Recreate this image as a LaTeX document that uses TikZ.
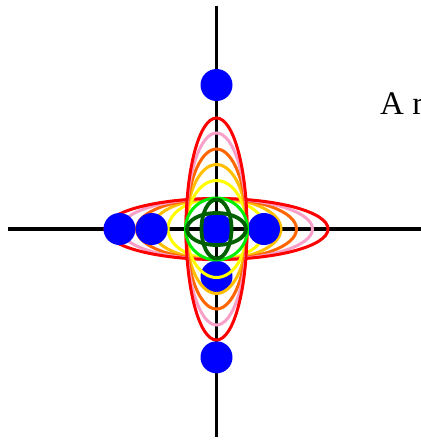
\documentclass[tikz,border=0pt]{standalone}
\usepackage{fontspec}
\setmainfont{Liberation Serif}
\definecolor{cred}{RGB}{255,0,0}
\definecolor{cpink}{RGB}{248,160,200}
\definecolor{corange}{RGB}{255,102,0}
\definecolor{cgold}{RGB}{255,190,0}
\definecolor{cyellow}{RGB}{255,255,0}
\definecolor{cgreen}{RGB}{0,238,0}
\definecolor{cdgreen}{RGB}{0,96,0}
\definecolor{cblue}{RGB}{0,0,255}
\tikzset{
  axisline/.style={line width=3.2pt, black},
  ell/.style={line width=3pt},
  globe/.style={line width=3.8pt, cdgreen},
  dot/.style={fill=cblue, draw=none}
}
\begin{document}
\begin{tikzpicture}[x=1pt,y=-1pt]
\useasboundingbox (0,0) rectangle (421,440);
\coordinate (c) at (216.5,229);
\coordinate (axL) at (8.3,229);
\coordinate (axR) at (421,229);
\coordinate (axT) at (216.5,5.7);
\coordinate (axB) at (216.5,436.7);
% axes
\draw[axisline] (axL) -- (axR);
\draw[axisline] (axT) -- (axB);
% horizontal ellipses
\draw[ell, cyellow] (c) ellipse [x radius=48.5, y radius=30.5];
\draw[ell, cgold]   (c) ellipse [x radius=64.5, y radius=30.5];
\draw[ell, corange] (c) ellipse [x radius=80, y radius=30.5];
\draw[ell, cpink]   (c) ellipse [x radius=96, y radius=30.5];
\draw[ell, cred]    (c) ellipse [x radius=111.5, y radius=30.5];
% blue dots
\fill[dot] (216.5,85) circle (16);
\fill[dot] (216.5,357.3) circle (16);
\fill[dot] (216.5,276.7) circle (16);
\fill[dot] (119.5,229) circle (16);
\fill[dot] (151.7,229) circle (16);
\fill[dot] (264,229) circle (16);
\fill[dot] (c) circle (16);
% vertical ellipses
\draw[ell, cyellow] (c) ellipse [x radius=30.5, y radius=48.5];
\draw[ell, cgold]   (c) ellipse [x radius=30.5, y radius=64.5];
\draw[ell, corange] (c) ellipse [x radius=30.5, y radius=80];
\draw[ell, cpink]   (c) ellipse [x radius=30.5, y radius=96];
\draw[ell, cred]    (c) ellipse [x radius=30.5, y radius=111];
% green circle
\draw[ell, cgreen] (c) circle (31);
% dark green globe
\draw[globe] (c) ellipse [x radius=29.5, y radius=16];
\draw[globe] (c) ellipse [x radius=15, y radius=29.5];
% text
\node[anchor=base west, inner sep=0pt, font=\fontsize{33}{40}\selectfont] (txt) at (380,114) {A r};
\end{tikzpicture}
\end{document}
